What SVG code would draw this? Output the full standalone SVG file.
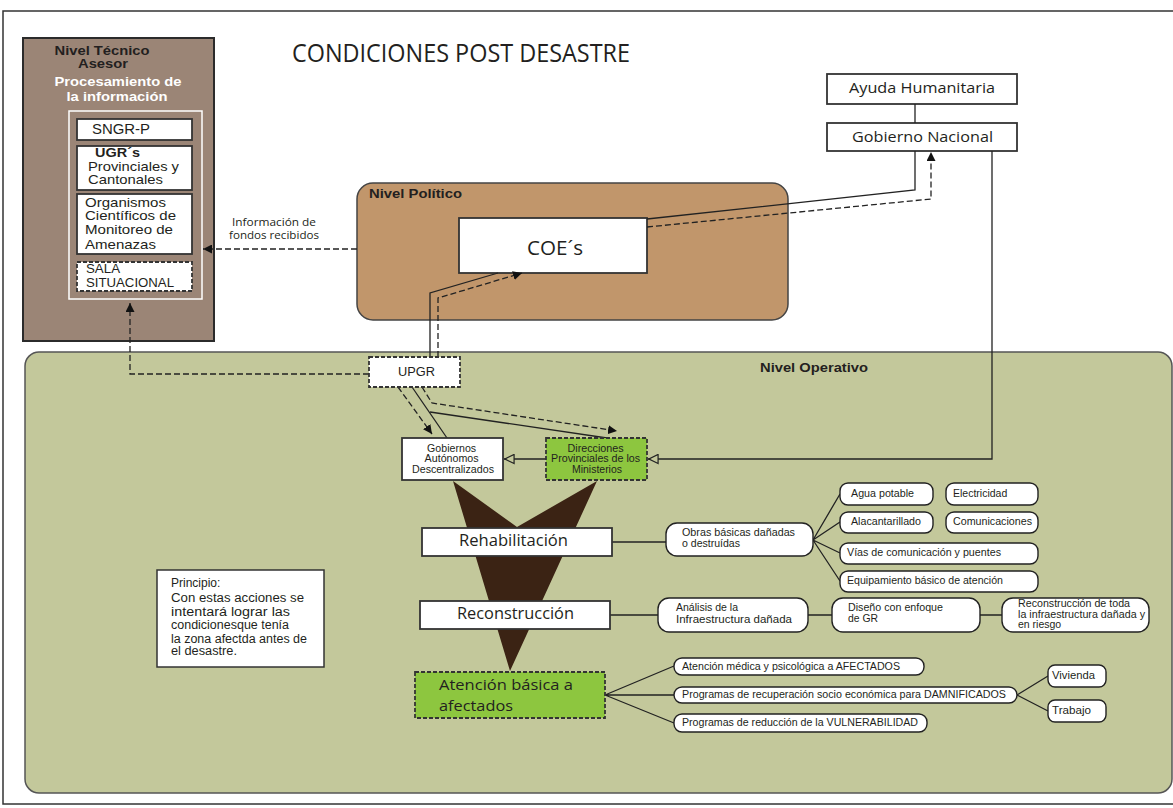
<svg xmlns="http://www.w3.org/2000/svg" width="1173" height="808" viewBox="0 0 1173 808">
<defs>
<style>
.frame{fill:#fff;stroke:#333;stroke-width:1.5}
.box{fill:#fff;stroke:#333;stroke-width:1.8}
.dbox{fill:#fff;stroke:#333;stroke-width:1.8;stroke-dasharray:4 2}
.gbox{fill:#8dc63f;stroke:#333;stroke-width:1.8;stroke-dasharray:4 2}
.pill{fill:#fff;stroke:#222;stroke-width:1.4}
.ln{fill:none;stroke:#222;stroke-width:1.3}
.dl{fill:none;stroke:#222;stroke-width:1.3;stroke-dasharray:6 3}
.my{font-family:"Open Sans","Noto Sans",sans-serif;fill:#231f20}
.ar{font-family:"Liberation Sans",Arial,sans-serif;fill:#231f20}
.b{font-weight:bold}
.w{fill:#fff}
</style>
<marker id="ah" viewBox="0 0 10 10" refX="10" refY="5" markerWidth="9" markerHeight="9" markerUnits="userSpaceOnUse" orient="auto">
<path d="M0,0 L10,5 L0,10 z" fill="#111"/>
</marker>
<marker id="open" viewBox="0 0 12 12" refX="12" refY="6" markerWidth="11" markerHeight="11" markerUnits="userSpaceOnUse" orient="auto">
<path d="M1,1 L11,6 L1,11 z" fill="#c3c89b" stroke="#222" stroke-width="1.3"/>
</marker>
</defs>

<rect x="3" y="11" width="1185" height="793" class="frame"/>
<text class="my" x="292" y="62" font-size="25" textLength="338" lengthAdjust="spacingAndGlyphs">CONDICIONES POST DESASTRE</text>

<!-- technical advisory level -->
<g id="nivel-tecnico">
<rect x="23" y="38" width="191" height="303" fill="#9b8576" stroke="#2b2b2b" stroke-width="2"/>
<text class="ar b" x="102" y="55" font-size="13" text-anchor="middle" textLength="95" lengthAdjust="spacingAndGlyphs">Nivel Técnico</text>
<text class="ar b" x="103" y="68" font-size="13" text-anchor="middle" textLength="50" lengthAdjust="spacingAndGlyphs">Asesor</text>
<text class="ar b w" x="118" y="86" font-size="13" text-anchor="middle" textLength="127" lengthAdjust="spacingAndGlyphs">Procesamiento de</text>
<text class="ar b w" x="117" y="101" font-size="13" text-anchor="middle" textLength="101" lengthAdjust="spacingAndGlyphs">la información</text>
<rect x="69" y="111" width="133" height="188" fill="none" stroke="#fff" stroke-width="1.5"/>
</g>
<g id="sngr-p">
<rect x="77" y="119" width="115" height="21" class="box"/>
<text class="ar" x="92" y="134" font-size="14" textLength="58" lengthAdjust="spacingAndGlyphs">SNGR-P</text>
</g>
<g id="ugrs">
<rect x="77" y="146" width="115" height="44" class="box"/>
<text class="ar b" x="95" y="157" font-size="13" textLength="45" lengthAdjust="spacingAndGlyphs">UGR´s</text>
<text class="ar" x="88" y="171" font-size="13.5" textLength="91" lengthAdjust="spacingAndGlyphs">Provinciales y</text>
<text class="ar" x="88" y="184" font-size="13.5" textLength="75" lengthAdjust="spacingAndGlyphs">Cantonales</text>
</g>
<g id="organismos">
<rect x="77" y="194" width="115" height="60" class="box"/>
<text class="ar" x="85" y="207" font-size="13.5" textLength="81" lengthAdjust="spacingAndGlyphs">Organismos</text>
<text class="ar" x="85" y="220" font-size="13.5" textLength="91" lengthAdjust="spacingAndGlyphs">Científicos de</text>
<text class="ar" x="85" y="234" font-size="13.5" textLength="88" lengthAdjust="spacingAndGlyphs">Monitoreo de</text>
<text class="ar" x="85" y="249" font-size="13.5" textLength="71" lengthAdjust="spacingAndGlyphs">Amenazas</text>
</g>
<g id="sala-situacional">
<rect x="77" y="262" width="115" height="29" class="dbox"/>
<text class="ar" x="86" y="273" font-size="12" textLength="34" lengthAdjust="spacingAndGlyphs">SALA</text>
<text class="ar" x="86" y="287" font-size="12" textLength="88" lengthAdjust="spacingAndGlyphs">SITUACIONAL</text>
</g>

<!-- political level -->
<g id="nivel-politico">
<rect x="357" y="183" width="431" height="137" rx="16" fill="#c1966b" stroke="#444" stroke-width="1.5"/>
<text class="ar b" x="369" y="198" font-size="12" textLength="93" lengthAdjust="spacingAndGlyphs">Nivel Político</text>
</g>
<g id="coes">
<rect x="459" y="218" width="188" height="55" class="box"/>
<text class="my" x="527" y="255" font-size="20" textLength="56" lengthAdjust="spacingAndGlyphs">COE´s</text>
</g>

<g id="ayuda-humanitaria">
<rect x="827" y="74" width="190" height="30" class="box"/>
<text class="my" x="849" y="93" font-size="14" textLength="146" lengthAdjust="spacingAndGlyphs">Ayuda Humanitaria</text>
</g>
<g id="gobierno-nacional">
<rect x="827" y="123" width="190" height="28" class="box"/>
<text class="my" x="852" y="142" font-size="14" textLength="141" lengthAdjust="spacingAndGlyphs">Gobierno Nacional</text>
</g>

<!-- operational level -->
<g id="nivel-operativo">
<rect x="25" y="352" width="1147" height="441" rx="14" fill="#c3c89b" stroke="#555" stroke-width="1.5"/>
<text class="ar b" x="760" y="372" font-size="12" textLength="108" lengthAdjust="spacingAndGlyphs">Nivel Operativo</text>
</g>

<g id="principio">
<rect x="157" y="570" width="167" height="97" fill="#fff" stroke="#333" stroke-width="1.5"/>
<text class="ar" font-size="12">
<tspan x="171" y="587">Principio:</tspan>
<tspan x="171" y="602" textLength="133" lengthAdjust="spacingAndGlyphs">Con estas acciones se</tspan>
<tspan x="171" y="616" textLength="119" lengthAdjust="spacingAndGlyphs">intentará lograr las</tspan>
<tspan x="171" y="629" textLength="118" lengthAdjust="spacingAndGlyphs">condicionesque tenía</tspan>
<tspan x="171" y="643" textLength="136" lengthAdjust="spacingAndGlyphs">la zona afectda antes de</tspan>
<tspan x="171" y="655" textLength="66" lengthAdjust="spacingAndGlyphs">el desastre.</tspan>
</text>
</g>

<!-- funnel of the recovery phases -->
<polygon id="funnel" points="453,481 517,527 597,481 510,671" fill="#3b2314"/>

<g id="connectors">
<path class="dl" d="M357,249 H203" marker-end="url(#ah)"/>
<path class="dl" d="M369,374 H130 V303" marker-end="url(#ah)"/>
<path class="ln" d="M915,104 V123"/>
<path class="ln" d="M647,219 L915,190 V151"/>
<path class="dl" d="M647,227 L931,199 V152" marker-end="url(#ah)"/>
<path class="ln" d="M430,357 V293 L498,273"/>
<path class="dl" d="M438,357 V298 L522,273" marker-end="url(#ah)"/>
<path class="dl" d="M398,387 L432,434" marker-end="url(#ah)"/>
<path class="ln" d="M412,387 L447,438"/>
<path class="dl" d="M422,387 L432,403 L617,431" marker-end="url(#ah)"/>
<path class="ln" d="M430,412 L607,438"/>
<path class="ln" d="M546,459 H504" marker-end="url(#open)"/>
<path class="ln" d="M992,151 V459 H648" marker-end="url(#open)"/>
<path class="ln" d="M612,542 H666"/>
<path class="ln" d="M813,540 L840,494 M813,540 L840,522 M813,540 L840,553 M813,540 L840,581"/>
<path class="ln" d="M610,615 H658 M808,615 H832 M980,615 H1002"/>
<path class="ln" d="M605,695 L674,666 M605,695 H674 M605,695 L674,723"/>
<path class="ln" d="M1017,695 L1048,676 M1017,695 L1048,711"/>
</g>
<text class="my" font-size="10.5">
<tspan x="232" y="226" textLength="84" lengthAdjust="spacingAndGlyphs">Información de</tspan>
<tspan x="229" y="239" textLength="90" lengthAdjust="spacingAndGlyphs">fondos recibidos</tspan>
</text>

<g id="upgr">
<rect x="369" y="357" width="91" height="30" class="dbox"/>
<text class="ar" x="398" y="376" font-size="12.5" textLength="37" lengthAdjust="spacingAndGlyphs">UPGR</text>
</g>
<g id="gad">
<rect x="402" y="438" width="101" height="42" class="box"/>
<text class="ar" font-size="10" text-anchor="middle">
<tspan x="453" y="452" textLength="49" lengthAdjust="spacingAndGlyphs">Gobiernos</tspan>
<tspan x="453" y="462" textLength="54" lengthAdjust="spacingAndGlyphs">Autónomos</tspan>
<tspan x="453" y="473" textLength="82" lengthAdjust="spacingAndGlyphs">Descentralizados</tspan>
</text>
</g>
<g id="direcciones">
<rect x="546" y="438" width="101" height="42" class="gbox"/>
<text class="ar" font-size="10" text-anchor="middle">
<tspan x="597" y="452" textLength="56" lengthAdjust="spacingAndGlyphs">Direcciones</tspan>
<tspan x="597" y="462" textLength="89" lengthAdjust="spacingAndGlyphs">Provinciales de los</tspan>
<tspan x="597" y="473" textLength="50" lengthAdjust="spacingAndGlyphs">Ministerios</tspan>
</text>
</g>

<g id="rehabilitacion">
<rect x="422" y="528" width="190" height="28" class="box"/>
<text class="my" x="459" y="546" font-size="16" textLength="109" lengthAdjust="spacingAndGlyphs">Rehabilitación</text>
</g>
<g id="reconstruccion">
<rect x="420" y="601" width="190" height="28" class="box"/>
<text class="my" x="457" y="619" font-size="16" textLength="117" lengthAdjust="spacingAndGlyphs">Reconstrucción</text>
</g>
<g id="atencion-basica">
<rect x="415" y="672" width="190" height="46" class="gbox"/>
<text class="my" x="439" y="690" font-size="15" textLength="134" lengthAdjust="spacingAndGlyphs">Atención básica a</text>
<text class="my" x="439" y="710.5" font-size="15" textLength="74" lengthAdjust="spacingAndGlyphs">afectados</text>
</g>

<g id="obras-basicas">
<rect x="666" y="523" width="147" height="33" rx="11" class="pill"/>
<text class="ar" font-size="10.5">
<tspan x="682" y="536" textLength="113" lengthAdjust="spacingAndGlyphs">Obras básicas dañadas</tspan>
<tspan x="682" y="547" textLength="58" lengthAdjust="spacingAndGlyphs">o destruídas</tspan>
</text>
</g>
<g id="agua-potable">
<rect x="840" y="483" width="93" height="22" rx="8" class="pill"/>
<text class="ar" x="851" y="497" font-size="10.5" textLength="63" lengthAdjust="spacingAndGlyphs">Agua potable</text>
</g>
<g id="electricidad">
<rect x="946" y="483" width="92" height="22" rx="8" class="pill"/>
<text class="ar" x="953" y="497" font-size="10.5">Electricidad</text>
</g>
<g id="alcantarillado">
<rect x="840" y="512" width="93" height="21" rx="8" class="pill"/>
<text class="ar" x="851" y="525" font-size="10.5" textLength="70" lengthAdjust="spacingAndGlyphs">Alacantarillado</text>
</g>
<g id="comunicaciones">
<rect x="946" y="512" width="92" height="21" rx="8" class="pill"/>
<text class="ar" x="953" y="525" font-size="10.5" textLength="79" lengthAdjust="spacingAndGlyphs">Comunicaciones</text>
</g>
<g id="vias">
<rect x="840" y="543" width="198" height="21" rx="8" class="pill"/>
<text class="ar" x="847" y="556" font-size="10.5" textLength="154" lengthAdjust="spacingAndGlyphs">Vías de comunicación y puentes</text>
</g>
<g id="equipamiento">
<rect x="840" y="571" width="198" height="21" rx="8" class="pill"/>
<text class="ar" x="847" y="584" font-size="10.5" textLength="156" lengthAdjust="spacingAndGlyphs">Equipamiento básico de atención</text>
</g>

<g id="analisis">
<rect x="658" y="598" width="150" height="34" rx="11" class="pill"/>
<text class="ar" font-size="10.5">
<tspan x="676" y="611" textLength="62" lengthAdjust="spacingAndGlyphs">Análisis de la</tspan>
<tspan x="676" y="623" textLength="116" lengthAdjust="spacingAndGlyphs">Infraestructura dañada</tspan>
</text>
</g>
<g id="diseno">
<rect x="832" y="598" width="148" height="34" rx="11" class="pill"/>
<text class="ar" font-size="10.5">
<tspan x="848" y="611" textLength="95" lengthAdjust="spacingAndGlyphs">Diseño con enfoque</tspan>
<tspan x="848" y="622" textLength="30" lengthAdjust="spacingAndGlyphs">de GR</tspan>
</text>
</g>
<g id="reconstruccion-total">
<rect x="1002" y="598" width="147" height="34" rx="11" class="pill"/>
<text class="ar" font-size="10.5">
<tspan x="1018" y="607" textLength="112" lengthAdjust="spacingAndGlyphs">Reconstrucción de toda</tspan>
<tspan x="1018" y="618" textLength="127" lengthAdjust="spacingAndGlyphs">la infraestructura dañada y</tspan>
<tspan x="1018" y="628">en riesgo</tspan>
</text>
</g>

<g id="atencion-medica">
<rect x="674" y="658" width="250" height="17" rx="8" class="pill"/>
<text class="ar" x="682" y="670" font-size="10" textLength="218" lengthAdjust="spacingAndGlyphs">Atención médica y psicológica a AFECTADOS</text>
</g>
<g id="recuperacion">
<rect x="674" y="687" width="343" height="16" rx="8" class="pill"/>
<text class="ar" x="682" y="698" font-size="10" textLength="324" lengthAdjust="spacingAndGlyphs">Programas de recuperación socio económica para DAMNIFICADOS</text>
</g>
<g id="reduccion">
<rect x="674" y="714" width="253" height="18" rx="8" class="pill"/>
<text class="ar" x="682" y="726" font-size="10" textLength="236" lengthAdjust="spacingAndGlyphs">Programas de reducción de la VULNERABILIDAD</text>
</g>
<g id="vivienda">
<rect x="1048" y="665" width="58" height="22" rx="7" class="pill"/>
<text class="ar" x="1052" y="679" font-size="10.5" textLength="43" lengthAdjust="spacingAndGlyphs">Vivienda</text>
</g>
<g id="trabajo">
<rect x="1048" y="700" width="58" height="22" rx="7" class="pill"/>
<text class="ar" x="1052" y="714" font-size="10.5" textLength="39" lengthAdjust="spacingAndGlyphs">Trabajo</text>
</g>
</svg>
